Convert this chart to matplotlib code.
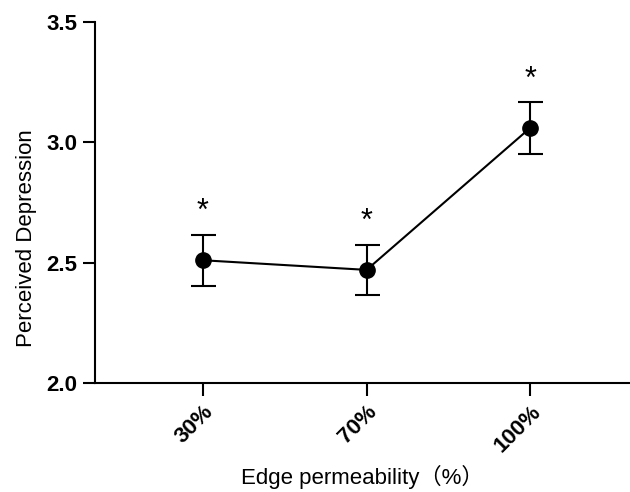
import matplotlib
matplotlib.use("Agg")
import matplotlib.pyplot as plt

plt.rcParams['font.family'] = ['Liberation Sans', 'Noto Sans CJK SC', 'DejaVu Sans']

# data
categories = ["30%", "70%", "100%"]
means = [2.51, 2.47, 3.06]
sems = [0.107, 0.105, 0.107]
stars = ["*", "*", "*"]

fig = plt.figure(figsize=(6.3, 4.92), dpi=100)
ax = fig.add_axes([95 / 630, 1 - 383 / 492, 1 - 95 / 630, (383 - 22) / 492])

x = list(range(len(categories)))
ax.errorbar(x, means, yerr=sems, color='black', marker='o', markersize=11,
            linewidth=1.5, elinewidth=1.5, capsize=9, capthick=1.5)
for xi, m, s, st in zip(x, means, sems, stars):
    ax.text(xi, m + s + 0.03, st, ha='center', va='bottom', fontsize=22)

ax.set_xlim(-0.66, 2.61)
ax.set_ylim(2.0, 3.5)
ax.set_yticks([2.0, 2.5, 3.0, 3.5])
ax.set_yticklabels(["2.0", "2.5", "3.0", "3.5"], fontweight='bold', fontsize=16)
ax.set_xticks(x)
ax.set_xticklabels(categories, fontweight='bold', fontsize=16, rotation=45,
                   ha='right', rotation_mode='anchor')
ax.spines['top'].set_visible(False)
ax.spines['right'].set_visible(False)
ax.spines['left'].set_linewidth(1.5)
ax.spines['bottom'].set_linewidth(1.5)
ax.tick_params(axis='both', length=9, width=1.5, direction='out')
ax.tick_params(axis='x', pad=4)

ax.set_ylabel("Perceived Depression", fontsize=16)
ax.yaxis.set_label_coords(-0.108, 0.40)
ax.set_xlabel("Edge permeability（%）", fontsize=16)
ax.xaxis.set_label_coords(0.5, -0.228)

fig.savefig("out.png", dpi=100)
